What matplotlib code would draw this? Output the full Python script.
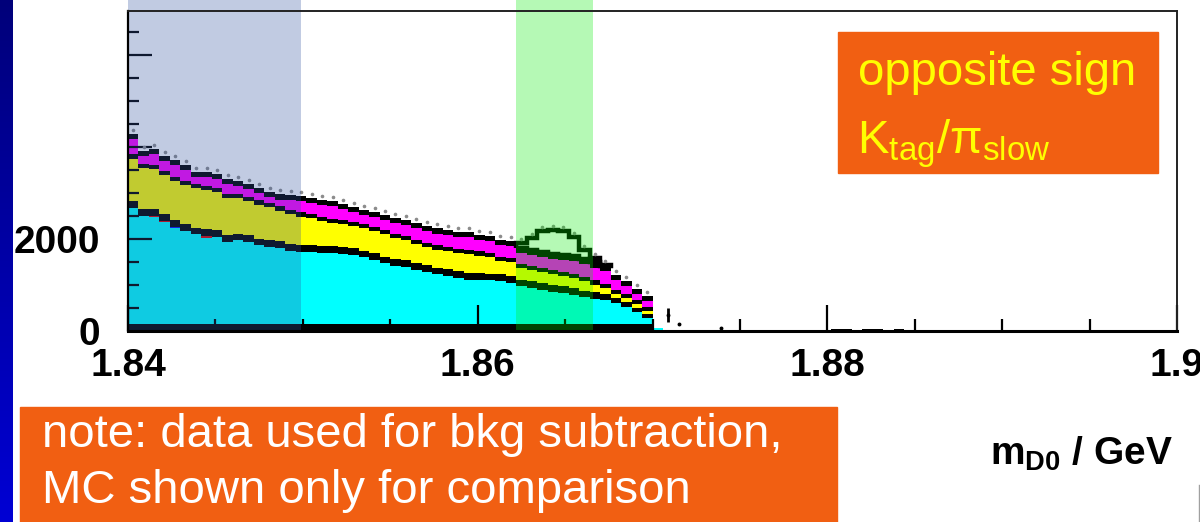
import numpy as np
import matplotlib.pyplot as plt
from matplotlib.patches import Rectangle
from matplotlib.lines import Line2D
from matplotlib.colors import LinearSegmentedColormap
from matplotlib.ticker import MultipleLocator
from matplotlib.transforms import offset_copy

# m_D0 binning: 100 bins of 0.6 MeV
edges = np.linspace(1.84, 1.90, 101)
nbins = 100

# stacked MC components, counts per bin starting at bin 0
other = [150, 150, 150, 150, 150, 150, 150, 150, 150, 150,
         150, 150, 150, 150, 150, 150, 150, 150, 150, 150,
         150, 150, 150, 150, 150, 150, 150, 150, 150, 150,
         150, 150, 150, 150, 150, 150, 150, 150, 150, 150,
         150, 150, 150, 150, 150, 150, 150, 150, 150, 150]
other_tail_bins = [67, 68, 69, 70, 71, 72, 73]
other_tail = [40, 40, 30, 40, 40, 30, 40]

cyan = [2520, 2360, 2320, 2210, 2080, 2020, 1950, 1870, 1890, 1780,
        1820, 1780, 1710, 1670, 1650, 1600, 1560, 1560, 1540, 1540,
        1520, 1500, 1450, 1390, 1320, 1260, 1240, 1170, 1130, 1080,
        1040, 1000, 970, 960, 950, 930, 890, 820, 780, 740,
        690, 670, 630, 580, 540, 520, 450, 370, 260, 130, 60]

red_bins = [2, 3, 7]
red = [40, 40, 40]
blue_bins = [4]
blue = [40]

sep1 = [150, 150, 150, 150, 150, 150, 150, 150, 150, 150,
        150, 150, 150, 150, 150, 150, 150, 150, 150, 150,
        150, 150, 150, 150, 150, 150, 150, 150, 150, 150,
        150, 150, 150, 150, 150, 150, 150, 150, 150, 150,
        150, 150, 150, 150, 150, 130, 110, 110, 90, 90]

yellow = [930, 880, 870, 850, 850, 860, 860, 850, 830, 820,
          770, 740, 740, 720, 670, 650, 630, 590, 560, 500,
          500, 480, 480, 480, 480, 460, 430, 430, 390, 390,
          390, 400, 400, 380, 350, 300, 300, 240, 240, 240,
          240, 220, 220, 200, 170, 130, 90, 90, 90, 60]

sep2 = [90, 90, 90, 90, 90, 90, 90, 90, 90, 90,
        90, 90, 90, 90, 90, 90, 90, 90, 90, 90,
        90, 90, 90, 90, 90, 90, 90, 90, 90, 90,
        90, 90, 90, 90, 90, 90, 90, 90, 90, 90,
        90, 90, 90, 90, 90, 90, 90, 90, 90, 90]

magenta = [330, 170, 220, 200, 260, 240, 150, 200, 200, 200,
           170, 170, 170, 130, 150, 200, 240, 240, 260, 280,
           240, 220, 200, 220, 220, 240, 240, 240, 260, 260,
           260, 260, 280, 240, 260, 260, 260, 240, 240, 240,
           240, 260, 280, 280, 280, 280, 220, 170, 130, 130]

sep3 = [110, 110, 110, 110, 110, 110, 110, 110, 110, 110,
        110, 110, 110, 110, 110, 110, 110, 110, 110, 110,
        110, 110, 110, 110, 110, 110, 110, 110, 110, 110,
        110, 110, 110, 110, 110, 110, 110, 110, 110, 110,
        110, 110, 110, 110, 110, 110, 110, 110, 110, 110]

# D0 signal peak (drawn hollow on top)
signal_first = 37
signal = [110, 260, 450, 520, 520, 410, 200, 90, 20]

# a few data entries above the kinematic edge
data_tail_bins = [51, 52, 56]
data_tail = [350, 150, 60]
data_tail_err = [150, 0, 0]

# sideband / signal windows
sideband = (1.84, 1.8499)
sigwindow = (1.8622, 1.8666)


def per_bin(values, first=0, bins=None):
    out = np.zeros(nbins)
    if bins is None:
        out[first:first + len(values)] = values
    else:
        out[bins] = values
    return out


other_all = per_bin(other) + per_bin(other_tail, bins=other_tail_bins)
layers = [
    (other_all, 'black'),
    (per_bin(cyan), '#00FFFF'),
    (per_bin(red, bins=red_bins), '#E00000'),
    (per_bin(blue, bins=blue_bins), '#0010FF'),
    (per_bin(sep1), 'black'),
    (per_bin(yellow), '#FFFF00'),
    (per_bin(sep2), 'black'),
    (per_bin(magenta), '#FF00FF'),
    (per_bin(sep3), 'black'),
]
tops = np.cumsum([v for v, c in layers], axis=0)
total = tops[-1]

fig = plt.figure(figsize=(12, 5.22), dpi=100)
ax = fig.add_axes([128 / 1200, 1 - 331 / 522, 1049 / 1200, 320 / 522])

# highest cumulative first, lower ones painted over it
for top, (v, c) in zip(tops[::-1], layers[::-1]):
    ax.stairs(top, edges, baseline=0, fill=True, color=c, lw=0, zorder=1)

sig = per_bin(signal, first=signal_first)
s0, s1 = signal_first, signal_first + len(signal)
ax.stairs(total[s0:s1] + sig[s0:s1], edges[s0:s1 + 1], baseline=total[s0:s1],
          fill=True, facecolor='white', edgecolor='black', linewidth=3.2, zorder=1.5)

# data points (small markers sitting on the stack)
centers = 0.5 * (edges[:-1] + edges[1:])
lifted = offset_copy(ax.transData, fig=fig, y=4, units='dots')
ax.plot(centers[:50], total[:50] + sig[:50], ls='none', marker='o', ms=1.6,
        color='#8C8C8C', transform=lifted, zorder=1.8)
ax.errorbar(centers[data_tail_bins], data_tail, yerr=data_tail_err, fmt='o',
            ms=1.8, color='black', elinewidth=2, capsize=0, zorder=1.8)

# sideband and signal window overlays
ax.axvspan(*sideband, ymin=0, ymax=331 / 320, color=(0.2, 0.33, 0.63), alpha=0.3,
           lw=0, zorder=2, clip_on=False)
ax.axvspan(*sigwindow, ymin=0, ymax=331 / 320, color=(0.0, 0.93, 0.0), alpha=0.29,
           lw=0, zorder=2, clip_on=False)

ax.set_xlim(1.84, 1.90)
ax.set_ylim(0, 6960)

tick_font = dict(family=['Liberation Sans', 'DejaVu Sans'], weight='bold', size=28)
ax.set_xticks([1.84, 1.86, 1.88, 1.90])
ax.set_xticklabels(['1.84', '1.86', '1.88', '1.9'], fontdict=tick_font)
ax.set_yticks([0, 2000, 4000, 6000])
ax.set_yticklabels(['0', '2000', '', ''], fontdict=tick_font)
ax.xaxis.set_minor_locator(MultipleLocator(0.005))
ax.yaxis.set_minor_locator(MultipleLocator(500))
ax.tick_params(axis='x', which='major', direction='in', length=19, width=1.6, pad=12)
ax.tick_params(axis='x', which='minor', direction='in', length=9, width=1.6)
ax.tick_params(axis='y', which='major', direction='in', length=17, width=1.6, pad=20)
ax.tick_params(axis='y', which='minor', direction='in', length=8, width=1.6)
for side in ['top', 'right']:
    ax.spines[side].set_linewidth(1.4)
    ax.spines[side].set_color('#222222')
ax.spines['left'].set_linewidth(1.6)
ax.spines['bottom'].set_linewidth(2.2)

fig.text(1173 / 1200, 1 - 465 / 522, r'$\mathregular{m_{D0}}$ / GeV', ha='right',
         va='baseline', fontdict=tick_font)

# slide decorations: blue side strip and orange notes
strip = fig.add_axes([0, 0, 13 / 1200, 1])
strip.imshow(np.linspace(0, 1, 256)[:, None], aspect='auto',
             cmap=LinearSegmentedColormap.from_list('strip', ['#00007A', '#0000D4']))
strip.set_axis_off()

orange = '#F15F12'
fig.add_artist(Rectangle((838 / 1200, 1 - 173 / 522), 320 / 1200, 141 / 522,
                         transform=fig.transFigure, color=orange, zorder=5))
fig.add_artist(Rectangle((20 / 1200, 0), 817 / 1200, 115 / 522,
                         transform=fig.transFigure, color=orange, zorder=5))
fig.add_artist(Line2D([1198.5 / 1200] * 2, [0, 37 / 522], color='#A0A0A0', lw=1))

box_font = dict(family=['Liberation Sans', 'DejaVu Sans'], size=34)
fig.text(858 / 1200, 1 - 85 / 522, 'opposite sign', color='#FFFF00', va='baseline',
         zorder=6, fontdict=box_font)
fig.text(857 / 1200, 1 - 153 / 522, r'$\mathregular{K_{tag}/π_{slow}}$', color='#FFFF00',
         va='baseline', zorder=6, fontdict=box_font)
fig.text(42 / 1200, 1 - 447 / 522, 'note: data used for bkg subtraction,', color='white',
         va='baseline', zorder=6, fontdict=box_font)
fig.text(42 / 1200, 1 - 503 / 522, 'MC shown only for comparison', color='white',
         va='baseline', zorder=6, fontdict=box_font)

fig.savefig('out.png', dpi=100)
